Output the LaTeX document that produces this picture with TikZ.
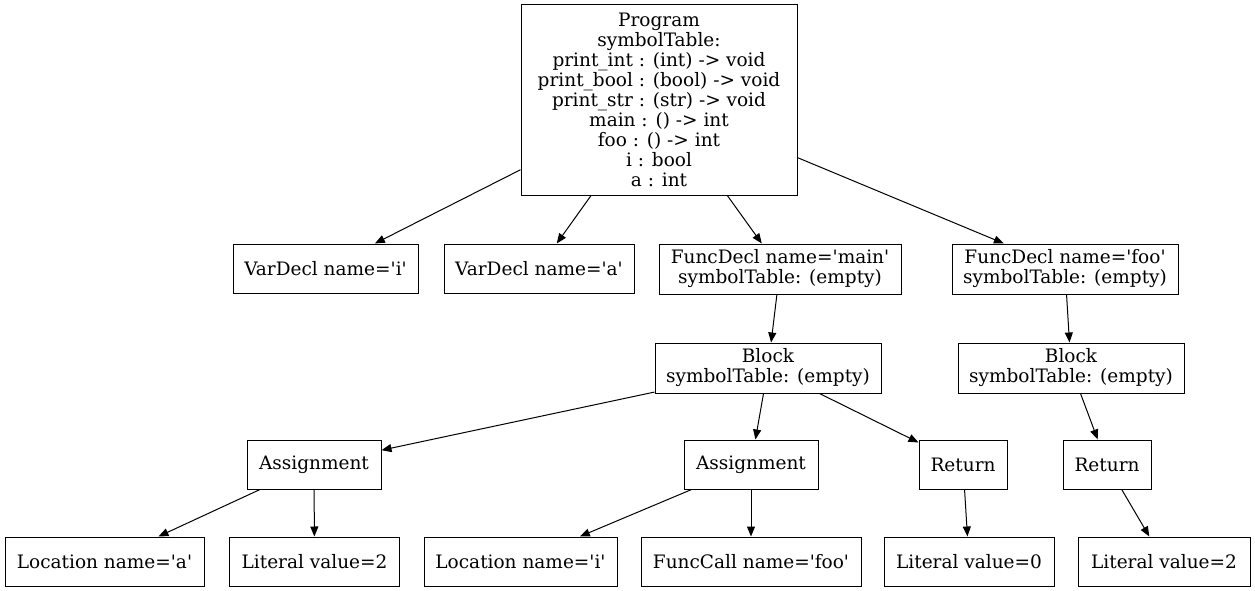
\documentclass[tikz,border=0pt]{standalone}
\usepackage{fontspec}
\setmainfont{DejaVu Serif}
\usetikzlibrary{arrows.meta}
\newcommand{\qt}{\textquotesingle}
\begin{document}
\begin{tikzpicture}[x=1pt,y=-1pt,
  box/.style={draw,line width=1pt,inner sep=0pt,align=center,
    font=\fontsize{18.5}{20}\selectfont},
  edge/.style={line width=1pt,-{Triangle[length=10pt,width=8pt]}}]
\useasboundingbox (0,0) rectangle (1255,591);
\node[box,minimum width=276pt,minimum height=190pt] (prog) at (659,100)
  {Program\\symbolTable:\\print\_int : (int) -> void\\print\_bool : (bool) -> void\\print\_str : (str) -> void\\main : () -> int\\foo : () -> int\\i : bool\\a : int};
\node[box,minimum width=185pt,minimum height=49pt] (vi) at (325.5,268.5) {VarDecl name=\qt i\qt};
\node[box,minimum width=190pt,minimum height=49pt] (va) at (539,268.5) {VarDecl name=\qt a\qt};
\node[box,minimum width=242pt,minimum height=50pt] (fmain) at (780,269) {FuncDecl name=\qt main\qt\\symbolTable: (empty)};
\node[box,minimum width=226pt,minimum height=50pt] (ffoo) at (1065,269) {FuncDecl name=\qt foo\qt\\symbolTable: (empty)};
\node[box,minimum width=226pt,minimum height=50pt] (bmain) at (768,368) {Block\\symbolTable: (empty)};
\node[box,minimum width=226pt,minimum height=50pt] (bfoo) at (1071,368) {Block\\symbolTable: (empty)};
\node[box,minimum width=134pt,minimum height=49pt] (as1) at (314,464.5) {Assignment};
\node[box,minimum width=134pt,minimum height=49pt] (as2) at (751,464.5) {Assignment};
\node[box,minimum width=88pt,minimum height=49pt] (ret1) at (963,464.5) {Return};
\node[box,minimum width=88pt,minimum height=49pt] (ret2) at (1107,464.5) {Return};
\node[box,minimum width=199pt,minimum height=49pt] (loca) at (104.5,561.5) {Location name=\qt a\qt};
\node[box,minimum width=170pt,minimum height=49pt] (lit2) at (314.5,561.5) {Literal value=2};
\node[box,minimum width=193pt,minimum height=49pt] (loci) at (520.5,561.5) {Location name=\qt i\qt};
\node[box,minimum width=220pt,minimum height=49pt] (fcall) at (751,561.5) {FuncCall name=\qt foo\qt};
\node[box,minimum width=170pt,minimum height=49pt] (lit0) at (969,561.5) {Literal value=0};
\node[box,minimum width=172pt,minimum height=49pt] (lit2b) at (1164,561.5) {Literal value=2};
\draw[edge] (prog) -- (vi);
\draw[edge] (prog) -- (va);
\draw[edge] (prog) -- (fmain);
\draw[edge] (prog) -- (ffoo);
\draw[edge] (fmain) -- (bmain);
\draw[edge] (ffoo) -- (bfoo);
\draw[edge] (bmain) -- (as1);
\draw[edge] (bmain) -- (as2);
\draw[edge] (bmain) -- (ret1);
\draw[edge] (bfoo) -- (ret2);
\draw[edge] (as1) -- (loca);
\draw[edge] (as1) -- (lit2);
\draw[edge] (as2) -- (loci);
\draw[edge] (as2) -- (fcall);
\draw[edge] (ret1) -- (lit0);
\draw[edge] (ret2) -- (lit2b);
\end{tikzpicture}
\end{document}
